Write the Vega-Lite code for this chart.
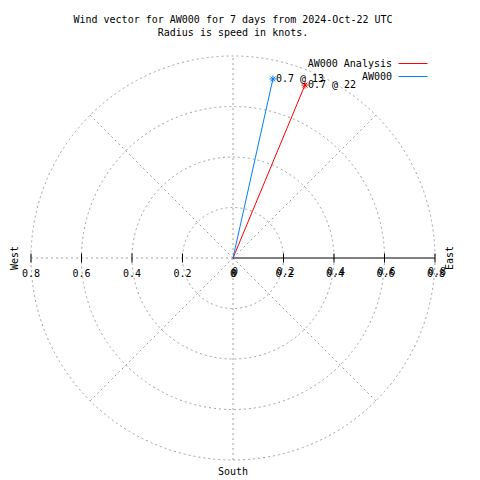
{
  "$schema": "https://vega.github.io/schema/vega-lite/v6.json",
  "width": 404,
  "height": 404,
  "autosize": "none",
  "padding": {"left": 31, "top": 56, "right": 45, "bottom": 20},
  "background": "white",
  "config": {"view": {"stroke": null}, "font": "DejaVu Sans Mono"},
  "title": {
    "text": ["Wind vector for AW000 for 7 days from 2024-Oct-22 UTC", "Radius is speed in knots."],
    "font": "DejaVu Sans Mono",
    "fontSize": 10,
    "fontWeight": "normal",
    "color": "black",
    "anchor": "middle",
    "baseline": "bottom",
    "lineHeight": 13,
    "offset": 6
  },
  "encoding": {
    "x": {"type": "quantitative", "scale": {"domain": [-0.8, 0.8], "nice": false, "zero": false}, "axis": null},
    "y": {"type": "quantitative", "scale": {"domain": [-0.8, 0.8], "nice": false, "zero": false}, "axis": null}
  },
  "layer": [
    {
      "data": {"values": [{"r": 0.2}, {"r": 0.4}, {"r": 0.6}, {"r": 0.8}]},
      "mark": {"type": "point", "shape": "circle", "filled": false, "stroke": "#a0a0a0", "strokeWidth": 1, "strokeDash": [2, 3], "opacity": 1},
      "encoding": {
        "x": {"datum": 0, "type": "quantitative"},
        "y": {"datum": 0, "type": "quantitative"},
        "size": {"field": "r", "type": "quantitative", "scale": {"type": "pow", "exponent": 2, "domain": [0, 0.8], "range": [0, 163216]}, "legend": null}
      }
    },
    {
      "data": {"values": [
        {"x": 0, "y": -0.8, "x2": 0, "y2": 0.8},
        {"x": -0.8, "y": 0, "x2": 0, "y2": 0},
        {"x": 0, "y": 0, "x2": 0.5657, "y2": 0.5657},
        {"x": 0, "y": 0, "x2": -0.5657, "y2": 0.5657},
        {"x": 0, "y": 0, "x2": -0.5657, "y2": -0.5657},
        {"x": 0, "y": 0, "x2": 0.5657, "y2": -0.5657}
      ]},
      "mark": {"type": "rule", "stroke": "#a0a0a0", "strokeWidth": 1, "strokeDash": [2, 3]},
      "encoding": {
        "x": {"field": "x", "type": "quantitative"},
        "y": {"field": "y", "type": "quantitative"},
        "x2": {"field": "x2"},
        "y2": {"field": "y2"}
      }
    },
    {
      "data": {"values": [{"x": 0, "x2": 0.8}]},
      "mark": {"type": "rule", "stroke": "black", "strokeWidth": 1},
      "encoding": {
        "x": {"field": "x", "type": "quantitative"},
        "x2": {"field": "x2"},
        "y": {"datum": 0, "type": "quantitative"}
      }
    },
    {
      "data": {"values": [{"v": -0.8}, {"v": -0.6}, {"v": -0.4}, {"v": -0.2}, {"v": 0.2}, {"v": 0.4}, {"v": 0.6}, {"v": 0.8}]},
      "mark": {"type": "tick", "orient": "vertical", "color": "black", "size": 9, "thickness": 1, "opacity": 1},
      "encoding": {
        "x": {"field": "v", "type": "quantitative"},
        "y": {"datum": 0, "type": "quantitative"}
      }
    },
    {
      "data": {"values": [{"v": -0.8, "l": "0.8"}, {"v": -0.6, "l": "0.6"}, {"v": -0.4, "l": "0.4"}, {"v": -0.2, "l": "0.2"}, {"v": 0, "l": "0"}]},
      "mark": {"type": "text", "font": "DejaVu Sans Mono", "fontSize": 10, "color": "black", "align": "center", "baseline": "middle", "dy": 16},
      "encoding": {
        "x": {"field": "v", "type": "quantitative"},
        "y": {"datum": 0, "type": "quantitative"},
        "text": {"field": "l"}
      }
    },
    {
      "data": {"values": [{"v": 0, "l": "0"}, {"v": 0.2, "l": "0.2"}, {"v": 0.4, "l": "0.4"}, {"v": 0.6, "l": "0.6"}, {"v": 0.8, "l": "0.8"}]},
      "layer": [
        {
          "mark": {"type": "text", "font": "DejaVu Sans Mono", "fontSize": 10, "color": "black", "align": "center", "baseline": "middle", "dy": 16, "dx": 1},
          "encoding": {
            "x": {"field": "v", "type": "quantitative"},
            "y": {"datum": 0, "type": "quantitative"},
            "text": {"field": "l"}
          }
        },
        {
          "mark": {"type": "text", "font": "DejaVu Sans Mono", "fontSize": 10, "color": "black", "align": "center", "baseline": "middle", "dy": 14, "dx": 2},
          "encoding": {
            "x": {"field": "v", "type": "quantitative"},
            "y": {"datum": 0, "type": "quantitative"},
            "text": {"field": "l"}
          }
        }
      ]
    },
    {
      "data": {"values": [
        {"series": "AW000 Analysis", "x": 0, "y": 0, "o": 0},
        {"series": "AW000 Analysis", "x": 0.285, "y": 0.685, "o": 1},
        {"series": "AW000", "x": 0, "y": 0, "o": 0},
        {"series": "AW000", "x": 0.158, "y": 0.709, "o": 1}
      ]},
      "mark": {"type": "line", "strokeWidth": 1},
      "encoding": {
        "x": {"field": "x", "type": "quantitative"},
        "y": {"field": "y", "type": "quantitative"},
        "order": {"field": "o"},
        "color": {
          "field": "series",
          "type": "nominal",
          "scale": {"domain": ["AW000 Analysis", "AW000"], "range": ["#ff0000", "#0080ff"]},
          "legend": {
            "orient": "none",
            "legendX": 376.5,
            "legendY": 2,
            "title": null,
            "symbolType": "M-2.9,0H2.9",
            "symbolSize": 100,
            "symbolStrokeWidth": 1,
            "symbolOpacity": 1,
            "labelFont": "DejaVu Sans Mono",
            "labelFontSize": 10,
            "labelColor": "black",
            "labelAlign": "right",
            "labelOffset": -26.5,
            "rowPadding": 2,
            "padding": 0
          }
        }
      }
    },
    {
      "data": {"values": [
        {"series": "AW000 Analysis", "x": 0.285, "y": 0.685, "label": "0.7 @ 22"},
        {"series": "AW000", "x": 0.158, "y": 0.709, "label": "0.7 @ 13"}
      ]},
      "layer": [
        {
          "mark": {"type": "point", "shape": "M-1,0H1M0,-1V1M-0.7,-0.7L0.7,0.7M-0.7,0.7L0.7,-0.7", "filled": false, "size": 49, "strokeWidth": 1, "opacity": 1},
          "encoding": {
            "x": {"field": "x", "type": "quantitative"},
            "y": {"field": "y", "type": "quantitative"},
            "color": {"field": "series", "type": "nominal"}
          }
        },
        {
          "mark": {"type": "text", "font": "DejaVu Sans Mono", "fontSize": 10, "color": "black", "align": "left", "baseline": "middle", "dx": 3},
          "encoding": {
            "x": {"field": "x", "type": "quantitative"},
            "y": {"field": "y", "type": "quantitative"},
            "text": {"field": "label"}
          }
        }
      ]
    },
    {
      "data": {"values": [{"label": "West", "x": -0.863, "y": 0}, {"label": "East", "x": 0.859, "y": 0}]},
      "mark": {"type": "text", "font": "DejaVu Sans Mono", "fontSize": 10, "color": "black", "align": "center", "baseline": "middle", "angle": 270},
      "encoding": {"x": {"field": "x", "type": "quantitative"}, "y": {"field": "y", "type": "quantitative"}, "text": {"field": "label"}}
    },
    {
      "data": {"values": [{"label": "South", "x": 0, "y": -0.8475}]},
      "mark": {"type": "text", "font": "DejaVu Sans Mono", "fontSize": 10, "color": "black", "align": "center", "baseline": "middle"},
      "encoding": {"x": {"field": "x", "type": "quantitative"}, "y": {"field": "y", "type": "quantitative"}, "text": {"field": "label"}}
    }
  ]
}
